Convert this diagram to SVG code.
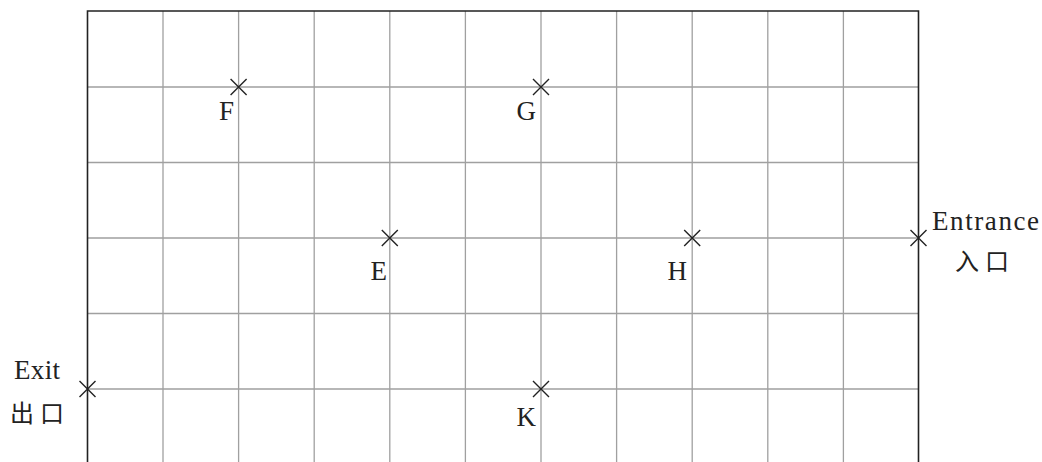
<svg xmlns="http://www.w3.org/2000/svg" width="1042" height="462" viewBox="0 0 1042 462">
<style>
.grid{stroke:#a0a0a0;stroke-width:1.3;fill:none}
.border{stroke:#222;stroke-width:1.6;fill:none}
.x{stroke:#222;stroke-width:1.4}
.lbl{font-family:"Liberation Serif","DejaVu Serif",serif;font-size:27px;fill:#222}
.pt{text-anchor:end}
.cjk{font-family:"Noto Sans CJK SC","Noto Sans CJK JP",serif;font-size:24px;fill:#222}
</style>
<defs>
<path id="cross" class="x" d="M-8,-8L8,8M-8,8L8,-8"/>
</defs>
<rect width="1042" height="462" fill="#fff"/>
<g id="grid">
<path class="grid" d="M163,11V462M238.6,11V462M314.2,11V462M389.8,11V462M465.4,11V462M541,11V462M616.6,11V462M692.2,11V462M767.8,11V462M843.4,11V462M87.5,87H918.5M87.5,162.5H918.5M87.5,238H918.5M87.5,313.5H918.5M87.5,389H918.5"/>
<path class="border" d="M87.5,462V11H918.5V462"/>
</g>
<g id="F"><use href="#cross" x="238.6" y="87"/><text class="lbl pt" x="234" y="120">F</text></g>
<g id="G"><use href="#cross" x="541" y="87"/><text class="lbl pt" x="536" y="120">G</text></g>
<g id="E"><use href="#cross" x="389.8" y="238"/><text class="lbl pt" x="387" y="280">E</text></g>
<g id="H"><use href="#cross" x="692.2" y="238"/><text class="lbl pt" x="687" y="280">H</text></g>
<g id="K"><use href="#cross" x="541" y="389"/><text class="lbl pt" x="536" y="426">K</text></g>
<g id="entrance"><use href="#cross" x="918.5" y="238"/><text class="lbl" x="932" y="230" textLength="107" lengthAdjust="spacing">Entrance</text><text class="cjk" x="955" y="270" letter-spacing="6">入口</text></g>
<g id="exit"><use href="#cross" x="87.5" y="389"/><text class="lbl" x="14" y="379" textLength="46" lengthAdjust="spacing">Exit</text><text class="cjk" x="10" y="422" letter-spacing="6">出口</text></g>
</svg>
